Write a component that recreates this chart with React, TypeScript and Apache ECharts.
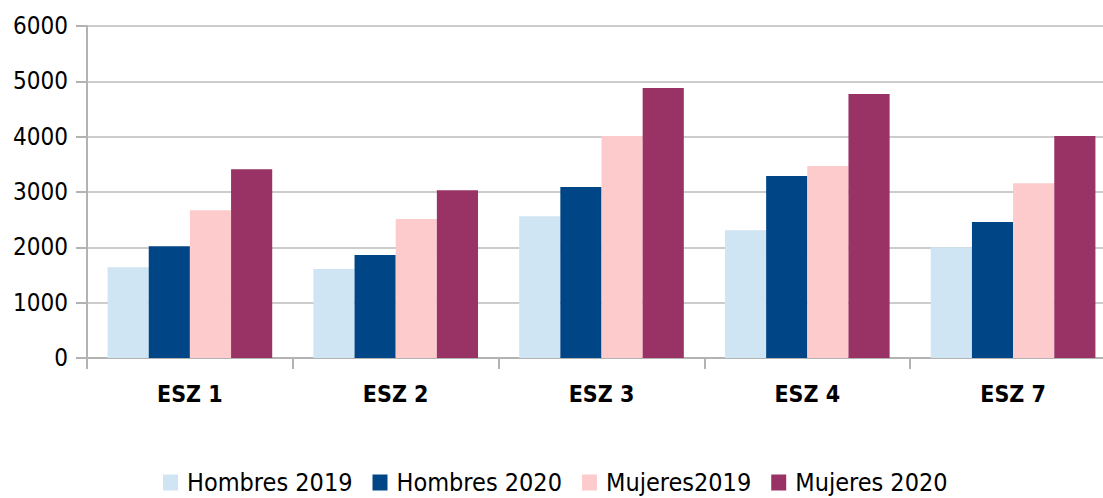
import React, { useEffect, useRef } from "react";
import * as echarts from "echarts";

const categories = ["ESZ 1", "ESZ 2", "ESZ 3", "ESZ 4", "ESZ 7"];
const seriesNames = ["Hombres 2019", "Hombres 2020", "Mujeres2019", "Mujeres 2020"];
const hombres2019 = [1640, 1610, 2560, 2310, 2000];
const hombres2020 = [2020, 1860, 3090, 3290, 2460];
const mujeres2019 = [2670, 2510, 4010, 3470, 3160];
const mujeres2020 = [3410, 3030, 4880, 4770, 4010];
const colors = ["#cfe5f3", "#004586", "#fdcbcb", "#993366"];

const FONT = "'DejaVu Sans Condensed', 'DejaVu Sans', sans-serif";

export default function App() {
  const ref = useRef<HTMLDivElement>(null);
  useEffect(() => {
    if (!ref.current) return;
    const chart = echarts.init(ref.current, null, { renderer: "svg" });
    const values = [hombres2019, hombres2020, mujeres2019, mujeres2020];
    chart.setOption({
      animation: false,
      backgroundColor: "#ffffff",
      grid: { left: 87, right: 0, top: 26, height: 332, containLabel: false },
      legend: {
        top: 465,
        left: 158,
        itemWidth: 15,
        itemHeight: 16,
        icon: "rect",
        itemGap: 20,
        textStyle: { fontFamily: FONT, fontSize: 25, color: "#000", padding: [0, 0, 0, 4] },
        data: seriesNames,
      },
      xAxis: {
        type: "category",
        data: categories,
        axisLine: { show: true, lineStyle: { color: "#b3b3b3", width: 2 } },
        axisTick: { show: true, length: 11, lineStyle: { color: "#b3b3b3", width: 2 } },
        axisLabel: { fontFamily: FONT, fontSize: 23, fontWeight: "bold", color: "#000", margin: 24 },
      },
      yAxis: {
        type: "value",
        min: 0,
        max: 6000,
        interval: 1000,
        axisLine: { show: true, lineStyle: { color: "#b3b3b3", width: 2 } },
        axisTick: { show: true, length: 11, lineStyle: { color: "#b3b3b3", width: 2 } },
        splitLine: { show: true, lineStyle: { color: "#cccccc", width: 2 } },
        axisLabel: {
          fontFamily: FONT,
          fontSize: 24,
          color: "#000",
          margin: 19,
          formatter: (v: number) => String(v),
        },
      },
      series: seriesNames.map((name, i) => ({
        name,
        type: "bar",
        data: values[i],
        barGap: "0%",
        barCategoryGap: "20%",
        itemStyle: { color: colors[i] },
      })),
    });
    return () => chart.dispose();
  }, []);
  return (
    <div
      style={{
        position: "fixed",
        left: 0,
        top: 0,
        width: 1103,
        height: 498,
        overflow: "hidden",
        background: "#fff",
      }}
    >
      <div ref={ref} style={{ width: 1116, height: 498 }} />
    </div>
  );
}
